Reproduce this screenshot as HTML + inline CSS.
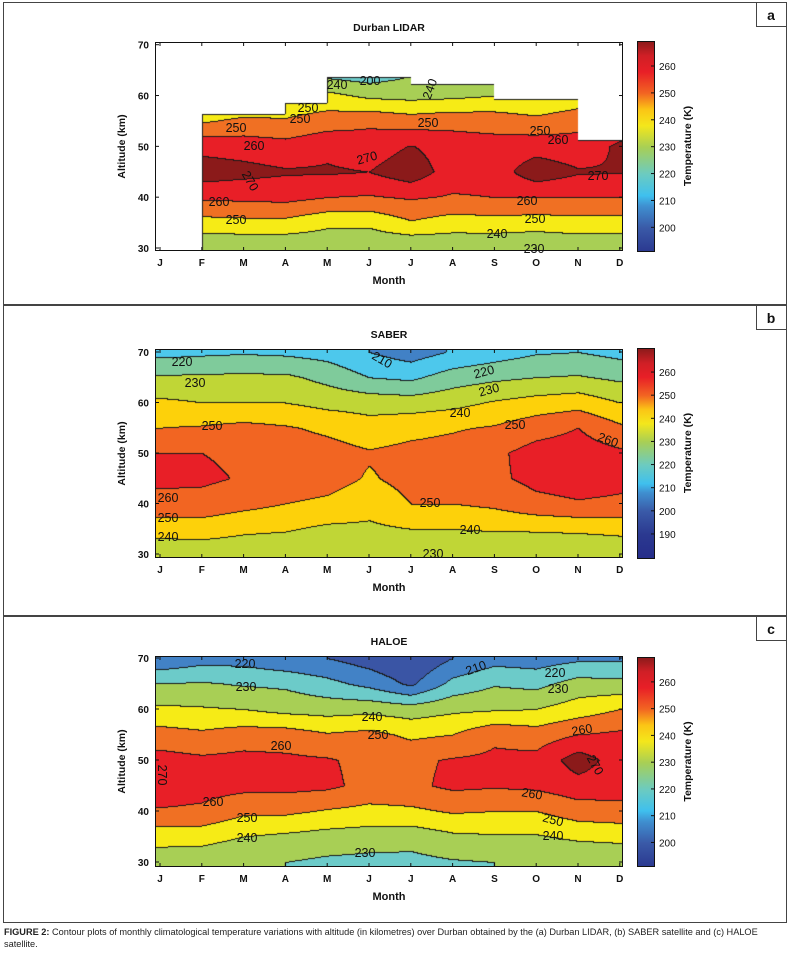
<!DOCTYPE html>
<html><head><meta charset="utf-8">
<style>
html,body{margin:0;padding:0;background:#fff;}
#root{position:relative;width:790px;height:955px;overflow:hidden;font-family:"Liberation Sans",Arial,sans-serif;}
canvas{position:absolute;}
svg{position:absolute;left:0;top:0;}
.cap{position:absolute;left:4px;top:926px;width:784px;font-size:9.2px;line-height:12px;color:#222;}
</style></head>
<body>
<div id="root">
<canvas id="cv-a"></canvas>
<canvas id="cv-b"></canvas>
<canvas id="cv-c"></canvas>
<svg id="ov" width="790" height="955"></svg>
<div class="cap"><b>FIGURE 2:</b> Contour plots of monthly climatological temperature variations with altitude (in kilometres) over Durban obtained by the (a) Durban LIDAR, (b) SABER satellite and (c) HALOE satellite.</div>
</div>
<script>
const months = ["J","F","M","A","M","J","J","A","S","O","N","D"];
const altitudes = [30,35,40,45,50,55,60,65,70];
const altTicks = [30,40,50,60,70];
// temperature profiles (K) per month, altitudes 30..70 km
const lidarT = [
[232,246,260,271,270,255,240,228,215],
[231,246,262,275,267,249,240,228,215],
[231,247,262,273,266,252,240,228,215],
[231,247,263,271,264,251,242,230,215],
[233,242,260,271,268,255,243,224,215],
[232,242,259,270,265,258,238,222,215],
[230,249,261,276,270.5,255,237,228,215],
[232,245,259,265,265,257,238,230,215],
[231,246,260,265,264,256,240,230,215],
[230,245,260,276,266,253,239,230,215],
[232,246,260,271,264,257,243,230,215],
[232,246,260,270.5,272,262,245,230,215]];
const lidarTop = [29,56.4,56.4,58.6,63.6,63.6,62.3,62.3,59.3,59.3,51.3,51.3];
const saberT = [
[233,244,257,262,260,250,242,231,217],
[233,245,256,262,260,251,240,232,218],
[233,242,253,259,258,253,240,232,219],
[232,241,250,256,256,251,240,232,218],
[232,238,248,254,254,248,237,227,216],
[232,238,244,249,251,244,236,220,210],
[231,240,250,253,253,247,235,218,205],
[231,240,250,254,254,249,237,225,211],
[231,241,252,258,258,251,241,228,215],
[232,241,257,263,264,256,244,230,219],
[230,242,259,265,265,260,246,231,220],
[232,243,258,263,262,252,240,228,217]];
const haloeT = [
[234,244,259,266,264,254,242,230,212],
[233,244,258,264,262,252,241,231,216],
[230,240,252,263,263,255,240,229,216],
[230,238,252,263,262,255,237,228,212],
[228,236,249,262,261,251,236,223,210],
[227,235,247,257,257,253,237,217,205],
[227,234,248,258,258,248,235,208,200],
[229,238,251,262,261,250,238,223,210],
[230,239,250,261,262,258,239,229,216],
[230,239,250,262,263,255,240,227,215],
[230,242,255,266,275,260,245,234,218],
[231,243,256,265,265,262,250,233,218]];
const cbTicksA = [200,210,220,230,240,250,260];
const cbTicksB = [190,200,210,220,230,240,250,260];

const bandsSaber = ["#2b3990","#3a5aa8","#4181c6","#4dc8ec","#7fcb9b","#c0d636","#fdd10a","#f26522","#e81f27","#8b1a1a"];
const bandsHaloe = ["#2b3990","#34479c","#3a55a5","#4282c6","#6ccbc9","#a8cf55","#f6eb16","#f07023","#e81f27","#8b1a1a"];
const bandsLidar = ["#2b3990","#34479c","#3a55a5","#4fc0e8","#6ccbc9","#a8cf55","#f6eb16","#f07023","#e81f27","#8b1a1a"];

const panels = [
 {id:"a",cv:"cv-a",data:lidarT,top:lidarTop,bands:bandsLidar,title:"Durban LIDAR",box:[3,2,783,302],
  px0:155,px1:623,py0:42,py1:251,alt70:44.7,alt30:248,cb:{y0:41,y1:251,tTop:269.3,tBot:191.2,ticks:cbTicksA},
  labels:[[308,108,"250"],[300,119,"250"],[236,128,"250"],[254,146,"260"],[367,158,"270",-15],[219,202,"260"],[236,220,"250"],[527,201,"260"],[535,219,"250"],[497,234,"240"],[534,249,"230"],[428,123,"250"],[540,131,"250"],[558,140,"260"],[598,176,"270"],[337,85,"240"],[370,81,"200"],[250,181,"270",60],[430,89,"240",-70]]},
 {id:"b",cv:"cv-b",data:saberT,top:null,bands:bandsSaber,title:"SABER",box:[3,305,783,310],
  px0:155,px1:623,py0:349,py1:558,alt70:352,alt30:554,cb:{y0:348,y1:558,tTop:270.4,tBot:179.6,ticks:cbTicksB},
  labels:[[182,362,"220"],[195,383,"230"],[212,426,"250"],[608,440,"260",20],[168,498,"260"],[168,518,"250"],[168,537,"240"],[430,503,"250"],[470,530,"240"],[433,554,"230"],[460,413,"240"],[489,390,"230",-15],[484,372,"220",-15],[382,360,"210",30],[515,425,"250"]]},
 {id:"c",cv:"cv-c",data:haloeT,top:null,bands:bandsHaloe,title:"HALOE",box:[3,616,783,306],
  px0:155,px1:623,py0:656,py1:867,alt70:658,alt30:862,cb:{y0:657,y1:866,tTop:269.3,tBot:191.2,ticks:cbTicksA},
  labels:[[245,664,"220"],[246,687,"230"],[372,717,"240"],[378,735,"250"],[281,746,"260"],[213,802,"260"],[247,818,"250"],[247,838,"240"],[365,853,"230"],[476,668,"210",-20],[555,673,"220"],[558,689,"230"],[582,730,"260",-10],[532,794,"260",10],[553,820,"250",15],[553,836,"240"],[162,775,"270",90],[595,765,"270",60]]}
];
const X0=160, DX=41.8;
const svg=document.getElementById('ov');
const NS="http://www.w3.org/2000/svg";
function mk(tag,attrs,parent){const e=document.createElementNS(NS,tag);for(const k in attrs)e.setAttribute(k,attrs[k]);(parent||svg).appendChild(e);return e;}
function hex(h){return [parseInt(h.slice(1,3),16),parseInt(h.slice(3,5),16),parseInt(h.slice(5,7),16)];}
const cmapStops=[[180,"#262d8a"],[190,"#2b3990"],[200,"#3a5aa8"],[208,"#3f8fd0"],[212,"#3fc0ee"],[220,"#6ccbc0"],[230,"#a8cf55"],[238,"#f4e71b"],[244,"#fbc515"],[250,"#f26522"],[258,"#e81f27"],[264,"#d01f26"],[271,"#8b1a1a"]];

panels.forEach(p=>{
  const W=p.px1-p.px0, H=p.py1-p.py0;
  const cv=document.getElementById(p.cv);
  cv.width=W;cv.height=H;cv.style.left=p.px0+"px";cv.style.top=p.py0+"px";
  const ctx=cv.getContext('2d');
  const img=ctx.createImageData(W,H);
  const kpx=(p.alt30-p.alt70)/40;
  const band=new Int16Array(W*H);
  for(let j=0;j<H;j++){
    const alt=70-((p.py0+j+0.5)-p.alt70)/kpx;
    for(let i=0;i<W;i++){
      let m=((p.px0+i+0.5)-X0)/DX; m=Math.max(0,Math.min(11,m));
      if(p.top){
        const seg=Math.min(11,Math.floor(m));
        const rawM=((p.px0+i+0.5)-X0)/DX;
        if(rawM<1 || alt>p.top[seg] || alt<29.3){band[j*W+i]=-1;continue;}
      }
      let a=Math.max(30,Math.min(70,alt));
      const mi=Math.min(10,Math.floor(m)), fm=m-mi;
      const ai=Math.min(7,Math.floor((a-30)/5)), fa=(a-30)/5-ai;
      const d=p.data;
      const t=(d[mi][ai]*(1-fm)+d[mi+1][ai]*fm)*(1-fa)+(d[mi][ai+1]*(1-fm)+d[mi+1][ai+1]*fm)*fa;
      band[j*W+i]=Math.max(0,Math.min(9,Math.floor((t-180)/10)));
    }
  }
  for(let j=0;j<H;j++)for(let i=0;i<W;i++){
    const b=band[j*W+i];let c;
    if(b<0)c=[255,255,255];else c=hex(p.bands[b]);
    const edge=b>=0&&((i>0&&band[j*W+i-1]!==b)||(j>0&&band[(j-1)*W+i]!==b));
    if(edge)c=[25,25,25];
    const k=(j*W+i)*4;img.data[k]=c[0];img.data[k+1]=c[1];img.data[k+2]=c[2];img.data[k+3]=255;
  }
  ctx.putImageData(img,0,0);

  const g=mk('g',{});
  
  
  const box=mk('rect',{x:p.box[0]+.5,y:p.box[1]+.5,width:p.box[2],height:p.box[3],fill:'none',stroke:'#444','stroke-width':1},g);
  
  
  const lb=mk('rect',{x:p.box[0]+p.box[2]-30+.5,y:p.box[1]+.5,width:30,height:24,fill:'#fff',stroke:'#444'},g);
  
  
  const lt=mk('text',{x:p.box[0]+p.box[2]-15,y:p.box[1]+18,'text-anchor':'middle','font-size':14,'font-weight':'bold',fill:'#111'},g);
  lt.textContent=p.id;
  
  
  const tt=mk('text',{x:(p.px0+p.px1)/2,y:p.py0-11,'text-anchor':'middle','font-size':10.5,'font-weight':'bold',fill:'#111'},g);
  tt.textContent=p.title;
  
  
  const fr=mk('rect',{x:p.px0+.5,y:p.py0+.5,width:p.px1-p.px0-1,height:p.py1-p.py0-1,fill:'none',stroke:'#111','stroke-width':1},g);
  
  
  months.forEach((mo,i)=>{
    const x=X0+i*DX;
    mk('line',{x1:x,y1:p.py1,x2:x,y2:p.py1-4,stroke:'#111'},g);
    mk('line',{x1:x,y1:p.py0,x2:x,y2:p.py0+4,stroke:'#111'},g);
    const t=mk('text',{x:x,y:p.py1+15,'text-anchor':'middle','font-size':10,'font-weight':'bold',fill:'#111'},g);
    t.textContent=mo;
    
    
  });
  const xt=mk('text',{x:(p.px0+p.px1)/2,y:p.py1+33,'text-anchor':'middle','font-size':11,'font-weight':'bold',fill:'#111'},g);
  xt.textContent="Month";
  
  
  altTicks.forEach(a=>{
    const y=p.alt70+(70-a)*kpx;
    mk('line',{x1:p.px0,y1:y,x2:p.px0+4,y2:y,stroke:'#111'},g);
    mk('line',{x1:p.px1,y1:y,x2:p.px1-4,y2:y,stroke:'#111'},g);
    const t=mk('text',{x:p.px0-6,y:y+4,'text-anchor':'end','font-size':10,'font-weight':'bold',fill:'#111'},g);
    t.textContent=a;
    
    
  });
  const yc=(p.py0+p.py1)/2;
  const yt=mk('text',{x:125,y:yc,'text-anchor':'middle','font-size':10.5,'font-weight':'bold',fill:'#111',transform:`rotate(-90 125 ${yc})`},g);
  yt.textContent="Altitude (km)";
  
  
  p.labels.forEach(l=>{
    const t=mk('text',{x:l[0],y:l[1]+4,'text-anchor':'middle','font-size':12.5,fill:'#111',transform:l[3]?`rotate(${l[3]} ${l[0]} ${l[1]})`:''},g);
    t.textContent=l[2];
    
    
  });
  const cb=p.cb, cx=637, cw=17;
  const gid='grad'+p.id;
  const defs=mk('defs',{},g);
  const lg=mk('linearGradient',{id:gid,x1:0,y1:0,x2:0,y2:1},defs);
  cmapStops.slice().reverse().forEach(s=>{
    const off=(cb.tTop-s[0])/(cb.tTop-cb.tBot);
    mk('stop',{offset:Math.max(0,Math.min(1,off)).toFixed(4),'stop-color':s[1]},lg);
  });
  const cbr=mk('rect',{x:cx+.5,y:cb.y0+.5,width:cw,height:cb.y1-cb.y0,fill:`url(#${gid})`,stroke:'#111'},g);
  
  
  const pxPerK=(cb.y1-cb.y0)/(cb.tTop-cb.tBot);
  cb.ticks.forEach(tk=>{
    const y=cb.y0+(cb.tTop-tk)*pxPerK;
    mk('line',{x1:cx+cw-3,y1:y,x2:cx+cw+1,y2:y,stroke:'#111'},g);
    const t=mk('text',{x:cx+cw+5,y:y+4,'font-size':10,fill:'#111'},g);
    t.textContent=tk;
    
    
  });
  const cyc=(cb.y0+cb.y1)/2;
  const ct=mk('text',{x:691,y:cyc,'text-anchor':'middle','font-size':10.5,'font-weight':'bold',fill:'#111',transform:`rotate(-90 691 ${cyc})`},g);
  ct.textContent="Temperature (K)";
  
  
});
</script>
</body></html>
